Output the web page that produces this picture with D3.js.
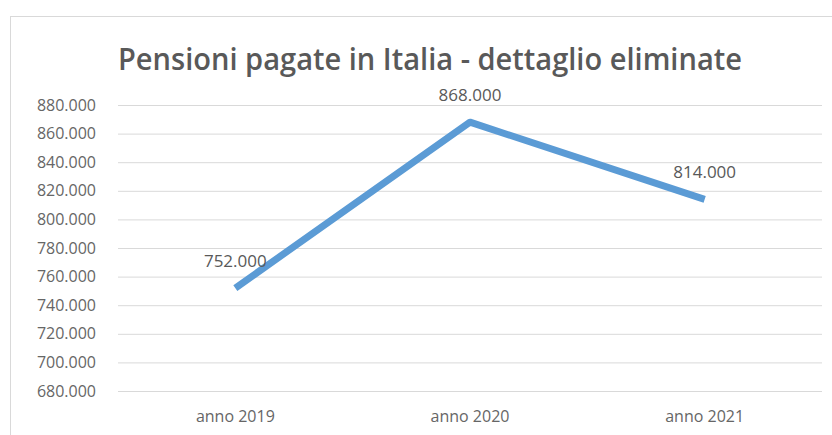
<!DOCTYPE html>
<html>
<head>
<meta charset="utf-8">
<script src="https://cdn.jsdelivr.net/npm/d3@7"></script>
<style>
  body { margin: 0; background: #fff; }
  svg { display: block; }
</style>
</head>
<body>
<script>
var title = 'Pensioni pagate in Italia - dettaglio eliminate';
var years = ['anno 2019', 'anno 2020', 'anno 2021'];
var eliminated = [752000, 868000, 814000];
var yTicks = [680000, 700000, 720000, 740000, 760000, 780000, 800000, 820000, 840000, 860000, 880000];

var it = d3.formatLocale({decimal: ',', thousands: '.', grouping: [3], currency: ['', ' €']});
var fmt = it.format(',');

var width = 832, height = 435;
var plotLeft = 118, plotRight = 822, plotTop = 105, plotBottom = 391;

var svg = d3.select('body')
	.append('svg')
	.attr('width', width)
	.attr('height', height);

// chart frame
svg.append('rect')
	.attr('x', 10.5).attr('y', 16.5)
	.attr('width', 840).attr('height', 440)
	.attr('fill', 'none')
	.attr('stroke', '#d9d9d9');

svg.append('text')
	.attr('x', 118).attr('y', 70)
	.attr('textLength', 624)
	.attr('lengthAdjust', 'spacingAndGlyphs')
	.style('font-family', 'Open Sans, sans-serif')
	.style('font-size', '31px')
	.style('font-weight', 600)
	.style('fill', '#595959')
	.text(title);

var x = d3.scaleBand().domain(years).range([plotLeft, plotRight]);
var y = d3.scaleLinear().domain([680000, 880000]).range([plotBottom, plotTop]);

var yAxis = svg.append('g')
	.attr('transform', 'translate(' + plotLeft + ',0)')
	.call(d3.axisLeft(y).tickValues(yTicks).tickFormat(fmt).tickSize(-(plotRight - plotLeft)).tickPadding(22));
yAxis.select('.domain').remove();
yAxis.selectAll('line').attr('stroke', '#d9d9d9');
yAxis.selectAll('text')
	.style('font-family', 'Open Sans, sans-serif')
	.style('font-size', '16px')
	.style('fill', '#666');

var xAxis = svg.append('g')
	.attr('transform', 'translate(0,' + plotBottom + ')')
	.call(d3.axisBottom(x).tickSize(0).tickPadding(20));
xAxis.select('.domain').remove();
xAxis.selectAll('text')
	.style('font-family', 'Open Sans, sans-serif')
	.style('font-size', '16px')
	.style('fill', '#666');

var cx = function(d, i){ return x(years[i]) + x.bandwidth() / 2; };

svg.append('path')
	.datum(eliminated)
	.attr('fill', 'none')
	.attr('stroke', '#5b9bd5')
	.attr('stroke-width', 7)
	.attr('stroke-linejoin', 'round')
	.attr('d', d3.line().x(cx).y(function(d){ return y(d); }));

svg.selectAll('.lbl')
	.data(eliminated)
	.enter()
	.append('text')
	.attr('class', 'lbl')
	.attr('x', cx)
	.attr('y', function(d){ return y(d) - 21; })
	.attr('text-anchor', 'middle')
	.style('font-family', 'Open Sans, sans-serif')
	.style('font-size', '17px')
	.style('fill', '#595959')
	.text(fmt);
</script>
</body>
</html>
